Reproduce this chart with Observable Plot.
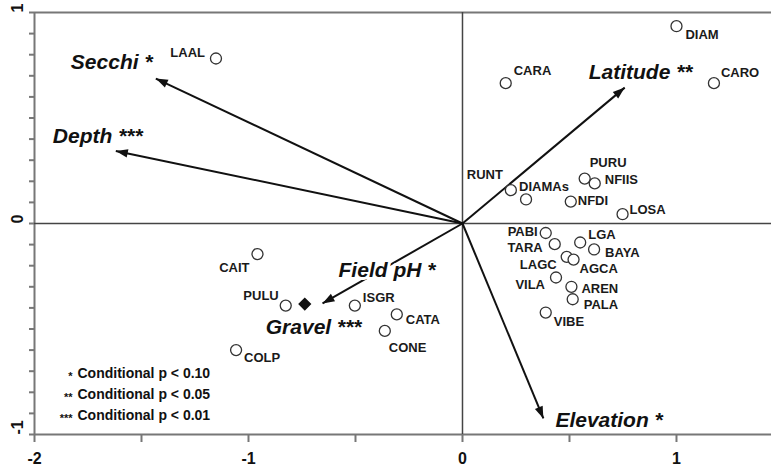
<!DOCTYPE html>
<html><head><meta charset="utf-8">
<script src="https://cdn.jsdelivr.net/npm/d3@7"></script>
<script src="https://cdn.jsdelivr.net/npm/@observablehq/plot@0.6"></script>
<style>body{margin:0;background:#fff;} svg{display:block}</style>
</head><body><div id="chart"></div>
<script>
// ---- data ----
const sites = ["LAAL","CARA","DIAM","CARO","RUNT","DIAMAs","PURU","NFIIS","NFDI","LOSA","PABI","TARA","LGA","BAYA","LAGC","AGCA","VILA","AREN","PALA","VIBE","CAIT","PULU","ISGR","CATA","CONE","COLP"];
const siteAxis1 = [-1.152,0.202,1.0,1.175,0.226,0.297,0.571,0.618,0.506,0.748,0.389,0.431,0.550,0.615,0.487,0.519,0.437,0.509,0.515,0.389,-0.958,-0.826,-0.503,-0.307,-0.363,-1.058];
const siteAxis2 = [0.782,0.665,0.935,0.665,0.158,0.114,0.213,0.190,0.104,0.044,-0.045,-0.098,-0.090,-0.123,-0.158,-0.171,-0.256,-0.300,-0.359,-0.422,-0.145,-0.389,-0.389,-0.431,-0.509,-0.600];
const variables = ["Secchi *","Depth ***","Latitude **","Elevation *","Field pH *"];
const varAxis1 = [-1.433,-1.62,0.758,0.378,-0.654];
const varAxis2 = [0.687,0.344,0.644,-0.924,-0.379];
const factors = ["Gravel ***"];
const factorAxis1 = [-0.737];
const factorAxis2 = [-0.382];
const xDomain = [-2, 1.444];
const yDomain = [-1, 1];
const xTicks = [-2,-1.5,-1,-0.5,0,0.5,1];
const yTicks = d3.range(-10, 11).map(i => i / 10);
const yTickLabels = [-1, 0, 1];
const legendStars = ["*","**","***"];
const legendTexts = ["Conditional p < 0.10","Conditional p < 0.05","Conditional p < 0.01"];

// ---- layout ----
const W = 771, H = 468, ML = 34, MR = 0, MT = 12, MB = 34;
const sitePlace = {
  LAAL:["end",-11,-6], CARA:["start",8,-12], DIAM:["start",9,9], CARO:["start",7,-10],
  RUNT:["end",-8,-15], DIAMAs:["start",-7,-13], PURU:["start",5,-16], NFIIS:["start",10,-4],
  NFDI:["start",7,-1], LOSA:["start",7,-4], PABI:["end",-8,-1], TARA:["end",-12,4],
  LGA:["start",8,-8], BAYA:["start",11,3], LAGC:["end",-10,8], AGCA:["start",6,9],
  VILA:["end",-11,7], AREN:["start",10,2], PALA:["start",11,6], VIBE:["start",8,9],
  CAIT:["end",-8,14], PULU:["end",-7,-10], ISGR:["start",8,-8], CATA:["start",9,5],
  CONE:["start",4,17], COLP:["start",8,8]
};
const varPlace = [["start",-85,-16],["start",-63,-15],["start",-36,-15],["start",12,2],["start",16,-33]];
const factorPlace = [["start",-39,23]];

const FONT = "'Liberation Sans', Arial, Helvetica, sans-serif";
const siteData = sites.map((s,i)=>({name:s, x:siteAxis1[i], y:siteAxis2[i]}));
const varData = variables.map((v,i)=>({name:v, x:varAxis1[i], y:varAxis2[i]}));
const factorData = factors.map((f,i)=>({name:f, x:factorAxis1[i], y:factorAxis2[i]}));

// screen-space direction of each arrow (px per unit in x and y)
const kx = (W - ML - MR) / (xDomain[1] - xDomain[0]);
const ky = (H - MT - MB) / (yDomain[1] - yDomain[0]);
const headAngle = d => Math.atan2(d.x * kx, d.y * ky) * 180 / Math.PI;
// filled arrow head: tip at the origin, pointing up
const headSymbol = {draw(ctx) { ctx.moveTo(0, 0); ctx.lineTo(-4.2, 12); ctx.lineTo(4.2, 12); ctx.closePath(); }};

const marks = [
  Plot.ruleY([1], {stroke:"#777", strokeWidth:2}),
  Plot.ruleY([-1], {stroke:"#777", strokeWidth:2}),
  Plot.ruleX([-2], {stroke:"#777", strokeWidth:2}),
  Plot.ruleX([0], {stroke:"#444", strokeWidth:1.5}),
  Plot.ruleY([0], {stroke:"#444", strokeWidth:1.5}),
  Plot.axisX({ticks: xTicks, tickFormat: d => Number.isInteger(d) ? String(d) : "", tickSize: 8, tickPadding: 10,
    fontSize: 16, fontWeight: "bold", fontFamily: FONT, stroke: "#777", strokeWidth: 2, fill: "#111", label: null}),
  Plot.axisY({ticks: yTicks, tickFormat: () => "", tickSize: 5, stroke: "#777", strokeWidth: 2, label: null}),
  Plot.text(yTickLabels, {y: d => d, frameAnchor: "left", dx: -17, rotate: -90, text: d => String(d),
    fontSize: 16, fontWeight: "bold", fontFamily: FONT, fill: "#111"}),
  Plot.link(varData, {x1: 0, y1: 0, x2: "x", y2: "y", stroke: "#111", strokeWidth: 2}),
  Plot.dot(varData, {x: "x", y: "y", symbol: headSymbol, rotate: headAngle, fill: "#111", stroke: "none", r: 6})
];
siteData.forEach(d => {
  const [a, dx, dy] = sitePlace[d.name];
  marks.push(Plot.text([d], {x:"x", y:"y", text:"name", textAnchor:a, dx, dy,
    fontSize: 13, fontWeight: "bold", fontFamily: FONT, fill: "#1a1a1a"}));
});
marks.push(Plot.dot(siteData, {x:"x", y:"y", r:5.5, fill:"white", stroke:"#333", strokeWidth:1.3}));
marks.push(Plot.dot(factorData, {x:"x", y:"y", r:5, symbol:"diamond2", fill:"#111", stroke:"#111"}));
varData.forEach((d,i) => {
  const [a, dx, dy] = varPlace[i];
  marks.push(Plot.text([d], {x:"x", y:"y", text:"name", textAnchor:a, dx, dy,
    fontSize: 21, fontWeight: "bold", fontStyle: "italic", fontFamily: FONT, fill: "#111",
    stroke: "white", strokeWidth: 6}));
});
factorData.forEach((d,i) => {
  const [a, dx, dy] = factorPlace[i];
  marks.push(Plot.text([d], {x:"x", y:"y", text:"name", textAnchor:a, dx, dy,
    fontSize: 21, fontWeight: "bold", fontStyle: "italic", fontFamily: FONT, fill: "#111"}));
});
const legendDy = [-57, -36, -15];
legendTexts.forEach((t,i) => {
  marks.push(Plot.text([legendStars[i]], {frameAnchor:"bottom-left", text: d=>d, textAnchor:"end", dx: 38, dy: legendDy[i]+2,
    fontSize: 11, fontWeight: "bold", fontFamily: FONT, fill: "#111"}));
  marks.push(Plot.text([t], {frameAnchor:"bottom-left", text: d=>d, textAnchor:"start", dx: 43, dy: legendDy[i],
    fontSize: 14, fontWeight: "bold", fontFamily: FONT, fill: "#111"}));
});

const chart = Plot.plot({
  width: W, height: H,
  marginLeft: ML, marginRight: MR, marginTop: MT, marginBottom: MB,
  x: {domain: xDomain, axis: null},
  y: {domain: yDomain, axis: null},
  style: {background: "white", fontFamily: FONT, overflow: "visible"},
  marks
});
document.getElementById("chart").appendChild(chart);
</script>
</body></html>
